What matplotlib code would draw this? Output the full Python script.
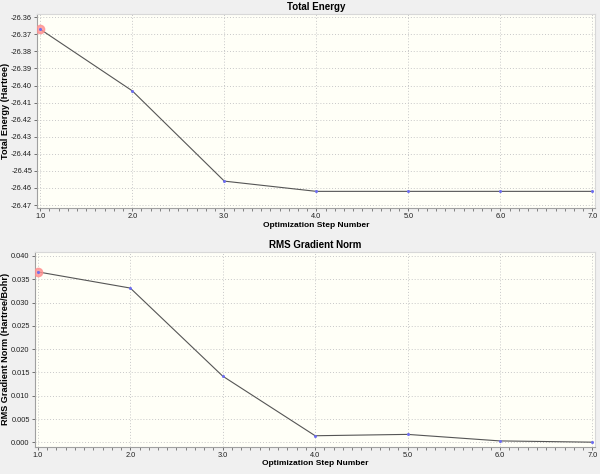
import numpy as np
import matplotlib.pyplot as plt
from matplotlib.ticker import MultipleLocator, FormatStrFormatter

plt.rcParams["font.family"] = ["Liberation Sans", "DejaVu Sans"]
plt.rcParams["axes.unicode_minus"] = False

# optimisation steps and values
steps = [1, 2, 3, 4, 5, 6, 7]
total_energy = [-26.3670, -26.4031, -26.4560, -26.4620, -26.4620, -26.4620, -26.4620]
rms_gradient = [0.03657, 0.03310, 0.01420, 0.00141, 0.00170, 0.00030, 0.00003]

BG = "#f0f0f0"
FACE = "#fffff7"
LINE = "#555555"
DOT = "#6f6ff0"

fig = plt.figure(figsize=(6.0, 4.74), dpi=100, facecolor=BG)
ax1 = fig.add_axes([0.062, 0.561, 0.930, 0.409])
ax2 = fig.add_axes([0.058, 0.058, 0.934, 0.410])


def style_axes(ax, title, ylabel, ylabel_x):
    ax.set_facecolor(FACE)
    for side, sp in ax.spines.items():
        sp.set_color("#a0a0a0" if side in ("left", "bottom") else "#d8d8d8")
        sp.set_linewidth(0.8)
    ax.grid(True, which="major", linestyle=(0, (1, 2)), color="#c8c8c8", linewidth=0.7)
    ax.set_axisbelow(True)
    ax.xaxis.set_major_locator(MultipleLocator(1.0))
    ax.xaxis.set_minor_locator(MultipleLocator(0.1))
    ax.xaxis.set_major_formatter(FormatStrFormatter("%.1f"))
    ax.tick_params(axis="both", which="major", labelsize=5.3, length=2.5, width=0.7,
                   color="#707070", pad=1.2, labelcolor="#202020")
    ax.tick_params(axis="x", which="minor", length=1.8, width=0.6, color="#707070")
    ax.set_title(title, fontsize=7, fontweight="bold", pad=3)
    ax.set_xlabel("Optimization Step Number", fontsize=6, fontweight="bold", labelpad=1)
    ax.set_ylabel(ylabel, fontsize=6.6, fontweight="bold")
    ax.yaxis.set_label_coords(ylabel_x, 0.5)
    ax.set_xlim(0.967, 7.03)


def draw_series(ax, x, y):
    ax.plot(x, y, color=LINE, linewidth=0.8, zorder=2)
    ax.plot(x[0], y[0], "o", markersize=6, color="#ff9090", alpha=0.8, zorder=3)
    ax.plot(x, y, "o", markersize=2.2, color=DOT, markeredgewidth=0, zorder=4)


# Total Energy
style_axes(ax1, "Total Energy", "Total Energy (Hartree)", -0.048)
draw_series(ax1, steps, total_energy)
ax1.set_ylim(-26.4718, -26.3582)
ax1.yaxis.set_major_locator(MultipleLocator(0.01))
ax1.yaxis.set_major_formatter(FormatStrFormatter("%.2f"))

# RMS Gradient Norm
style_axes(ax2, "RMS Gradient Norm", "RMS Gradient Norm (Hartree/Bohr)", -0.045)
draw_series(ax2, steps, rms_gradient)
ax2.set_ylim(-0.0009, 0.0408)
ax2.yaxis.set_major_locator(MultipleLocator(0.005))
ax2.yaxis.set_major_formatter(FormatStrFormatter("%.3f"))

fig.savefig("out.png", dpi=100, facecolor=BG)
